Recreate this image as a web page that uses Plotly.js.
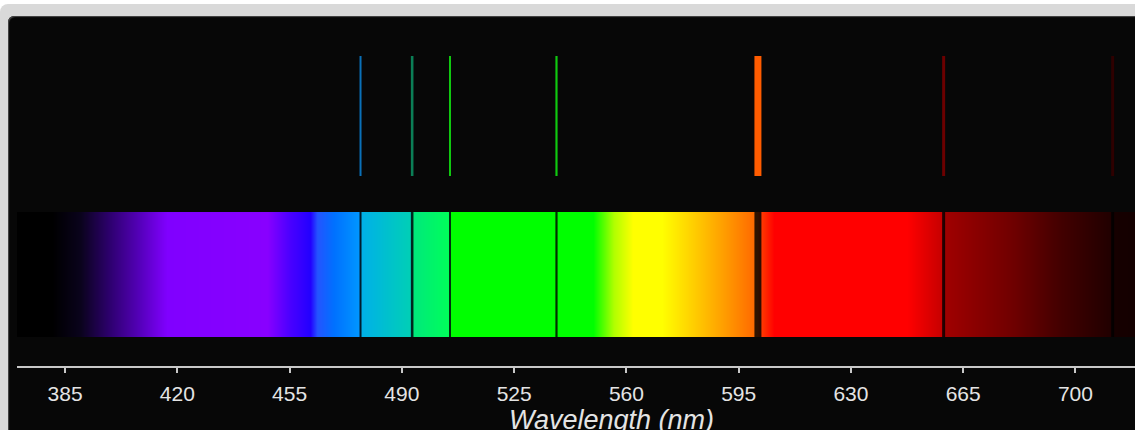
<!DOCTYPE html>
<html>
<head>
<meta charset="utf-8">
<script src="https://cdn.plot.ly/plotly-3.0.1.min.js"></script>
<style>
html, body { margin:0; padding:0; width:1135px; height:430px; overflow:hidden; background:#ffffff; }
#frame { position:absolute; left:0; top:4px; width:1400px; height:700px; background:#d9d9d9; border-radius:8px 0 0 0; }
#panel { position:absolute; left:8px; top:16px; width:1400px; height:700px; background:#070707; border-radius:6px 0 0 0; box-shadow: inset 1px 1px 1px #4a4a4a; }
#chart { position:absolute; left:8px; top:16px; width:1198px; height:470px; }
</style>
</head>
<body>
<div id="frame"></div>
<div id="panel"></div>
<div id="chart"></div>
<script>
// ---- data ----
const lineWavelengths = [477.1, 493.2, 505.0, 538.2, 601.0, 658.9, 711.6];   // nm
const tickValues = [385, 420, 455, 490, 525, 560, 595, 630, 665, 700];
const tickLabels = ['385', '420', '455', '490', '525', '560', '595', '630', '665', '700'];
const axisTitle = 'Wavelength (nm)';

// continuous spectrum: wavelength (nm) -> colour
const spectrumWavelengths = [370, 381, 389.7, 399, 408.4, 414.6, 416.8, 448, 455, 461.4, 463.6, 468.6, 477,
  477.3, 493, 493.4, 505, 505.3, 549.6, 556, 562, 571, 580, 589, 600.8, 601.2, 606, 647.5, 658.8, 659.1,
  680, 695.5, 711.4, 711.8, 740.7];
const spectrumColors = ['#000000', '#000000', '#0a031c', '#2e0070', '#5600bc', '#7600ee', '#8000ff', '#8800ff', '#4a00ff', '#2200ff', '#2454ff', '#0070ff', '#0098ff',
  '#00b0e8', '#00d0b4', '#00e87c', '#00ff58', '#00ff00', '#00ff00', '#b0ff00', '#ffff00', '#ffff00', '#ffd200', '#ffa400', '#ff6400', '#ff4400', '#ff0000', '#ff0000', '#c40000', '#a00000',
  '#700000', '#420000', '#200000', '#160000', '#0c0000'];

// ---- styles ----
const lineColors = ['#0a70b8', '#0b7e56', '#10c810', '#10c810', '#ff5c00', '#6c0000', '#2e0000'];
const lineWidths = [2, 2.6, 2, 2.2, 7, 3, 3];
const fontFamily = '"Liberation Sans", Arial, Helvetica, sans-serif';

const wlMin = spectrumWavelengths[0];
const wlMax = spectrumWavelengths[spectrumWavelengths.length - 1];
const colorscale = spectrumWavelengths.map((w, i) => [(w - wlMin) / (wlMax - wlMin), spectrumColors[i]]);
colorscale[0][0] = 0; colorscale[colorscale.length - 1][0] = 1;

const spectrum = {
  type: 'heatmap',
  x: [wlMin, wlMax],
  y: [0, 1],
  z: [[wlMin, wlMax]],
  zmin: wlMin, zmax: wlMax,
  zsmooth: 'best',
  colorscale: colorscale,
  showscale: false,
  hoverinfo: 'skip'
};

const shapes = [];
lineWavelengths.forEach((w, i) => {
  // emission line above the spectrum
  shapes.push({ type: 'line', xref: 'x', yref: 'y', x0: w, x1: w, y0: 1.288, y1: 2.248,
    line: { color: lineColors[i], width: lineWidths[i] }, layer: 'above' });
  // absorption line in the spectrum
  shapes.push({ type: 'line', xref: 'x', yref: 'y', x0: w, x1: w, y0: 0, y1: 1,
    line: { color: 'rgba(0,0,0,0.82)', width: lineWidths[i] }, layer: 'above' });
});

const layout = {
  width: 1198, height: 470,
  margin: { l: 9, r: 0, t: 0, b: 120 },
  paper_bgcolor: 'rgba(0,0,0,0)',
  plot_bgcolor: 'rgba(0,0,0,0)',
  showlegend: false,
  xaxis: {
    range: [wlMin, wlMax],
    tickmode: 'array', tickvals: tickValues, ticktext: tickLabels,
    showgrid: false, zeroline: false,
    showline: true, linecolor: '#c8c8c8', linewidth: 2,
    ticks: 'outside', ticklen: 5, tickwidth: 2, tickcolor: '#c8c8c8',
    ticklabelstandoff: 3,
    tickfont: { family: fontFamily, size: 21, color: '#e4e4e4' },
    title: { text: axisTitle, standoff: 0, font: { family: fontFamily, size: 27, color: '#e4e4e4', style: 'italic' } },
    fixedrange: true
  },
  yaxis: { range: [-0.232, 2.568], visible: false, fixedrange: true },
  shapes: shapes
};

Plotly.newPlot('chart', [spectrum], layout, { displayModeBar: false, staticPlot: true });
</script>
</body>
</html>
